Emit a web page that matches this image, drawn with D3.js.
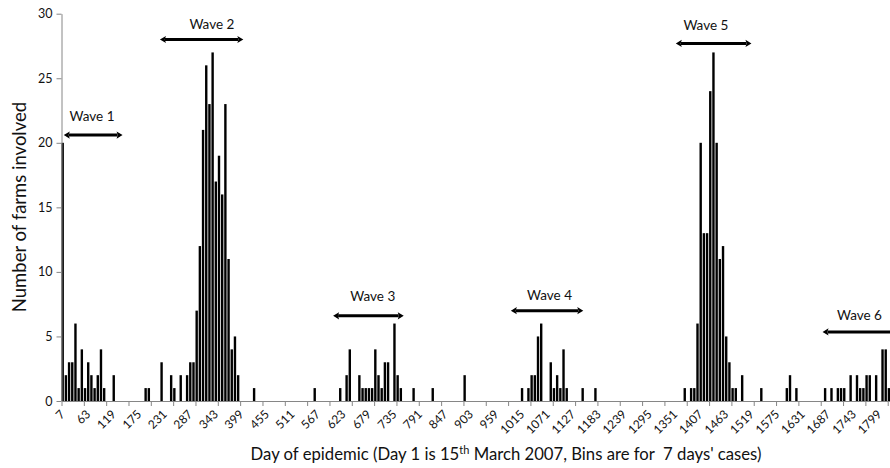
<!DOCTYPE html>
<html><head><meta charset="utf-8">
<script src="https://cdn.jsdelivr.net/npm/d3@7"></script>
<style>
html,body{margin:0;padding:0;background:#fff;}
svg{display:block;font-family:Lato,"Open Sans",sans-serif;}
</style></head><body>
<svg id="chart" width="890" height="468"></svg>
<script>
// Weekly counts of farms involved (bins of 7 days, first bin = day 7)
const counts = [
  20,2,3,3,6,1,4,1,3,2, 1,2,4,1,0,0,2,0,0,0,
  0,0,0,0,0,0,1,1,0,0, 0,3,0,0,2,1,0,2,0,2,
  3,3,7,12,21,26,23,27,17,19, 16,23,11,4,5,2,0,0,0,0,
  1,0,0,0,0,0,0,0,0,0, 0,0,0,0,0,0,0,0,0,1,
  0,0,0,0,0,0,0,1,0,2, 4,0,0,2,1,1,1,1,4,2,
  1,3,3,0,6,2,1,0,0,0, 1,0,0,0,0,0,1,0,0,0,
  0,0,0,0,0,0,2,0,0,0, 0,0,0,0,0,0,0,0,0,0,
  0,0,0,0,1,0,1,2,2,5, 6,0,0,3,1,2,1,4,1,0,
  0,0,0,1,0,0,0,1,0,0, 0,0,0,0,0,0,0,0,0,0,
  0,0,0,0,0,0,0,0,0,0, 0,0,0,0,0,1,0,1,1,6,
  20,13,13,24,27,20,11,12,5,3, 1,1,0,2,0,0,0,0,0,1,
  0,0,0,0,0,0,0,1,2,0, 1,0,0,0,0,0,0,0,0,1,
  0,1,0,1,1,1,0,2,0,2, 1,1,2,2,0,2,0,4,4,1,
  0,0
];
const days = d3.range(7, 7 + 7 * counts.length, 7);
const tickLabels = [7,63,119,175,231,287,343,399,455,511,567,623,679,735,791,847,903,959,1015,1071,1127,1183,1239,1295,1351,1407,1463,1519,1575,1631,1687,1743,1799];
const yTicks = [0,5,10,15,20,25,30];

// Wave annotations (in days / farm counts)
const waveNames      = ["Wave 1","Wave 2","Wave 3","Wave 4","Wave 5","Wave 6"];
const waveStart      = [12, 223, 603, 993, 1355, 1677];
const waveEnd        = [141, 406, 758, 1152, 1521, 1860];
const waveLevel      = [20.6, 28.0, 6.6, 7.0, 27.7, 5.35];
const waveLabelDay   = [74, 337, 690, 1078, 1421, 1758];
const waveLabelLevel = [21.7, 28.8, 7.75, 7.8, 28.7, 6.3];
const waveHeads      = ["both","both","both","both","both","left"];

const W = 890, H = 468;
const x0 = 61.5, step = 3.19, n = counts.length;
const yBottom = 401, yTop = 13.7;
const axisColor = "#868686";

const svg = d3.select("#chart");

const xBand = d3.scaleBand().domain(days)
  .range([x0, x0 + step * (n - 0.25)]).paddingInner(0.25).paddingOuter(0);
const xLin = d3.scaleLinear().domain([7, 7 + 7 * n]).range([x0, x0 + n * step]);
const y = d3.scaleLinear().domain([0, 30]).range([yBottom, yTop]);

// Bars
svg.append("g").selectAll("rect")
  .data(days.map((d, i) => ({day: d, v: counts[i]})).filter(d => d.v > 0))
  .join("rect")
  .attr("x", d => xBand(d.day))
  .attr("width", xBand.bandwidth())
  .attr("y", d => y(d.v))
  .attr("height", d => y(0) - y(d.v))
  .attr("fill", "#000");

// X axis: tick marks every 7 bins
const gxt = svg.append("g").attr("transform", `translate(0,${yBottom})`)
  .call(d3.axisBottom(xLin).tickValues(d3.range(7, 7 + 7 * n, 49)).tickFormat("").tickSize(5).tickSizeOuter(0));
gxt.select(".domain").attr("stroke", axisColor);
gxt.selectAll(".tick line").attr("stroke", axisColor);

// X axis labels every 8 bins
const gxl = svg.append("g").attr("transform", `translate(0,${yBottom})`)
  .call(d3.axisBottom(xBand).tickValues(tickLabels).tickSize(0).tickSizeOuter(0));
gxl.select(".domain").remove();
gxl.selectAll(".tick text")
  .attr("y", 0).attr("dy", 0)
  .attr("transform", "translate(3,14) rotate(-45)")
  .attr("text-anchor", "end")
  .attr("font-family", "Lato")
  .attr("font-size", 12)
  .attr("fill", "#111");

// Y axis
const gy = svg.append("g").attr("transform", `translate(${x0},0)`)
  .call(d3.axisLeft(y).tickValues(yTicks).tickSize(5).tickPadding(4).tickSizeOuter(0));
gy.select(".domain").attr("stroke", axisColor);
gy.selectAll(".tick line").attr("stroke", axisColor);
gy.selectAll(".tick text").attr("font-family", "Lato").attr("font-size", 12.5).attr("fill", "#111");

// Wave arrows
const ga = svg.append("g");
waveNames.forEach((name, i) => {
  const xa = xLin(waveStart[i]), xb = xLin(waveEnd[i]), yy = y(waveLevel[i]);
  const hl = 6, hh = 3.6;
  const leftHead = waveHeads[i] === "both" || waveHeads[i] === "left";
  const rightHead = waveHeads[i] === "both" || waveHeads[i] === "right";
  ga.append("line")
    .attr("x1", xa + (leftHead ? hl - 1 : 0)).attr("x2", xb - (rightHead ? hl - 1 : 0))
    .attr("y1", yy).attr("y2", yy)
    .attr("stroke", "#000").attr("stroke-width", 3);
  if (leftHead) {
    ga.append("path")
      .attr("d", `M${xa},${yy} L${xa + hl},${yy - hh} L${xa + hl - 1.2},${yy} L${xa + hl},${yy + hh} Z`)
      .attr("fill", "#000");
  }
  if (rightHead) {
    ga.append("path")
      .attr("d", `M${xb},${yy} L${xb - hl},${yy - hh} L${xb - hl + 1.2},${yy} L${xb - hl},${yy + hh} Z`)
      .attr("fill", "#000");
  }
  ga.append("text")
    .attr("x", xLin(waveLabelDay[i])).attr("y", y(waveLabelLevel[i]))
    .attr("text-anchor", "middle")
    .attr("font-size", 13.5)
    .attr("fill", "#111")
    .text(name);
});

// Axis titles
const xt = svg.append("text")
  .attr("x", 506).attr("y", 460)
  .attr("text-anchor", "middle")
  .attr("font-size", 16.7)
  .attr("fill", "#111")
  .style("white-space", "pre");
xt.append("tspan").text("Day of epidemic (Day 1 is 15");
xt.append("tspan").attr("font-size", 11).attr("dy", -6).text("th");
xt.append("tspan").attr("dy", 6).text(" March 2007, Bins are for  7 days' cases)");

svg.append("text")
  .attr("transform", "translate(26,207) rotate(-90)")
  .attr("text-anchor", "middle")
  .attr("font-size", 18.5)
  .attr("fill", "#111")
  .text("Number of farms involved");
</script>
</body></html>
